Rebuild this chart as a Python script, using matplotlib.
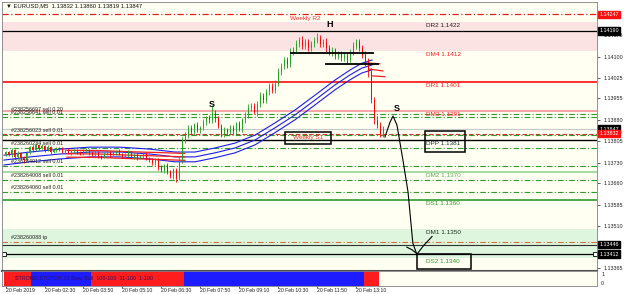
import matplotlib
matplotlib.use("Agg")

import numpy as np
import matplotlib.pyplot as plt
from matplotlib.patches import Rectangle
from matplotlib.transforms import blended_transform_factory

plt.rcParams["font.family"] = ["Liberation Sans", "DejaVu Sans"]

# -------------------------------
# DATA (EURUSD M5)
# -------------------------------
HEADER = "\u25bc EURUSD,M5  1.13832 1.13860 1.13819 1.13847"

FIRST_OPEN = 1.13760
CLOSES = [
    1.13768, 1.13758, 1.13775, 1.13751, 1.13765, 1.13747, 1.13740, 1.13765, 1.13785, 1.13775,
    1.13792, 1.13782, 1.13789, 1.13775, 1.13785, 1.13768, 1.13775, 1.13782, 1.13778, 1.13768,
    1.13775, 1.13765, 1.13771, 1.13775, 1.13768, 1.13761, 1.13771, 1.13775, 1.13765, 1.13758,
    1.13768, 1.13754, 1.13751, 1.13761, 1.13768, 1.13758, 1.13765, 1.13771, 1.13761, 1.13754,
    1.13758, 1.13768, 1.13751, 1.13758, 1.13747, 1.13754, 1.13761, 1.13747, 1.13740, 1.13730,
    1.13740, 1.13716, 1.13705, 1.13723, 1.13698, 1.13684, 1.13705, 1.13678, 1.13740, 1.13810,
    1.13827, 1.13852, 1.13838, 1.13862, 1.13845, 1.13852, 1.13872, 1.13886, 1.13879, 1.13904,
    1.13886, 1.13859, 1.13831, 1.13845, 1.13838, 1.13852, 1.13841, 1.13865, 1.13848, 1.13879,
    1.13897, 1.13921, 1.13928, 1.13907, 1.13935, 1.13963, 1.13949, 1.13977, 1.13998, 1.13984,
    1.14005, 1.14046, 1.14067, 1.14088, 1.14074, 1.14116, 1.14123, 1.14144, 1.14158, 1.14137,
    1.14151, 1.14130, 1.14144, 1.14154, 1.14165, 1.14144, 1.14151, 1.14130, 1.14113, 1.14123,
    1.14102, 1.14109, 1.14095, 1.14106, 1.14088, 1.14116, 1.14137, 1.14151, 1.14130, 1.14106,
    1.14081, 1.14046, 1.13949, 1.13879, 1.13862, 1.13832, 1.13847,
]
# wick lengths in points (1e-5)
WICK_UP = [
    5, 4, 7, 3, 5, 4, 6, 8, 5, 6,
    6, 4, 7, 5, 6, 3, 5, 5, 4, 6,
    5, 6, 3, 5, 4, 5, 7, 6, 4, 5,
    6, 3, 5, 6, 7, 4, 6, 5, 6, 4,
    5, 6, 3, 6, 5, 4, 7, 6, 5, 6,
    8, 6, 7, 5, 7, 9, 6, 8, 10, 9,
    12, 9, 11, 8, 10, 7, 10, 9, 12, 28,
    11, 9, 8, 10, 7, 9, 10, 8, 11, 9,
    10, 13, 10, 11, 9, 14, 10, 12, 10, 11,
    13, 15, 11, 12, 10, 14, 11, 13, 9, 12,
    10, 9, 11, 13, 17, 10, 9, 12, 10, 11,
    8, 10, 9, 11, 10, 12, 13, 10, 11, 10,
    12, 14, 15, 11, 13, 10, 13,
]
WICK_DN = [
    7, 5, 6, 8, 4, 6, 9, 5, 4, 6,
    5, 7, 4, 6, 5, 7, 4, 6, 5, 5,
    6, 4, 7, 5, 6, 4, 5, 6, 7, 4,
    5, 6, 8, 4, 5, 6, 5, 7, 4, 6,
    5, 7, 4, 6, 8, 5, 6, 7, 8, 6,
    7, 9, 6, 10, 8, 7, 9, 14, 8, 10,
    9, 11, 8, 12, 9, 10, 7, 11, 9, 10,
    12, 8, 10, 9, 11, 8, 10, 9, 8, 10,
    9, 11, 10, 8, 12, 9, 11, 10, 12, 9,
    10, 8, 11, 9, 13, 10, 12, 9, 11, 10,
    12, 9, 11, 10, 8, 12, 10, 13, 9, 11,
    10, 12, 9, 11, 10, 8, 12, 10, 9, 11,
    14, 16, 12, 13, 11, 12, 13,
]

# moving-average channel (mid line), bar index -> price
MA_X = [-0.5, 8.2, 18.2, 28.2, 38.2, 48.2, 56.5, 63.2, 69.8, 76.5, 83.2, 89.8, 96.5, 103.2, 109.8, 114.8, 118.8, 122.2]
MA_MID = [1.13740, 1.13751, 1.13761, 1.13768, 1.13768, 1.13761, 1.13751, 1.13751, 1.13765, 1.13782,
          1.13810, 1.13852, 1.13897, 1.13949, 1.14001, 1.14036, 1.14060, 1.14071]
MA_RED_X = [20.5, 31.5, 41.5, 51.5, 59.8]
MA_RED_MID = [1.13762, 1.13761, 1.13757, 1.13754, 1.13751]
MA_TAIL_X = [[120.0, 124.8], [121.0, 125.8], [122.2, 126.5]]
MA_TAIL_Y = [[1.14078, 1.14075], [1.14057, 1.14050], [1.14033, 1.14030]]

# pivot levels
PIVOT_NAMES = ["DR2", "DM4", "DR1", "DM3", "DPP", "DM2", "DS1", "DM1", "DS2"]
PIVOT_VALUES = [1.1422, 1.1412, 1.1401, 1.1391, 1.1381, 1.1370, 1.1360, 1.1350, 1.1340]
WEEKLY_R2 = 1.14247

# open orders
ORDER_LABELS = ["#238256697 sell 0.20", "#238256641 sell 0.01", "#238256023 sell 0.01",
                "#238260234 sell 0.01", "#238264012 sell 0.01", "#238264008 sell 0.01",
                "#238264060 sell 0.01", "#238260088 tp"]
ORDER_PRICES = [1.13900, 1.13890, 1.13827, 1.13782, 1.13719, 1.13670, 1.13629, 1.13455]

# right-axis
Y_TICKS = [1.14175, 1.14100, 1.14025, 1.13955, 1.13880, 1.13805, 1.13730, 1.13660, 1.13585, 1.13510, 1.13365]
TAGS = [(1.14247, "#FF1010"), (1.14190, "#000000"), (1.13847, "#000000"),
        (1.13832, "#FF1010"), (1.13446, "#000000"), (1.13412, "#000000")]

# time axis
TIME_TICKS = [0, 13, 26, 39, 52, 65, 78, 91, 104, 117]
TIME_LABELS = ["20 Feb 2019", "20 Feb 02:30", "20 Feb 03:50", "20 Feb 05:10", "20 Feb 06:30",
               "20 Feb 07:50", "20 Feb 09:10", "20 Feb 10:30", "20 Feb 11:50", "20 Feb 13:10"]

# strong stoch strip colour per bar
STOCH = ("RRRRRRRRR" "BBBBBBBBBBBBBBBBBBBB" "RRRRRRRRRRRRRRRRRRRRRRRRRRRRRRR"
         "BBBBBBBBBBBBBBBBBBBBBBBBBBBBBBBBBBBBBBBBBBBBBBBBBBBBBBBBBBBB" "RRRRR" "--")

# hand drawn annotations (bar index, price)
HS_TEXT = [("S", 68.8, 1.13935), ("H", 108.2, 1.14213), ("S", 130.5, 1.13921)]
NECK_X = [[95.2, 122.5], [106.8, 124.2]]
NECK_Y = [1.14113, 1.14074]
PATH_X = [126.5, 128.2, 129.2, 130.5, 132.5, 134.2, 135.8, 137.2]
PATH_Y = [1.13820, 1.13872, 1.13893, 1.13862, 1.13740, 1.13629, 1.13451, 1.13410]
HOOK_X = [133.8, 135.5, 137.2]
HOOK_Y = [1.13437, 1.13428, 1.13414]
REB_X = [137.5, 139.5, 142.2]
REB_Y = [1.13417, 1.13444, 1.13474]

BG = "#FFFFF2"
GREEN = "#1FA51F"
RED = "#FF0000"
SMALL = 3.9

# -------------------------------
# FIGURE
# -------------------------------
fig = plt.figure(figsize=(6.25, 2.94), dpi=100, facecolor="white")
ax = fig.add_axes([2 / 625, 1 - 271 / 294, 595 / 625, 269 / 294], facecolor=BG)
sub = fig.add_axes([2 / 625, 1 - 286 / 294, 595 / 625, 15 / 294], facecolor=BG, sharex=ax)

XMIN, XMAX = -1.17, 197.2
ax.set_xlim(XMIN, XMAX)
ax.set_ylim(1.13354, 1.14290)

# bands
ax.axhspan(PIVOT_VALUES[1], PIVOT_VALUES[0], color="#FBE3E3", lw=0, zorder=0)
ax.axhspan(PIVOT_VALUES[8], PIVOT_VALUES[7], color="#DDF6DD", lw=0, zorder=0)

# level lines
ax.axhline(WEEKLY_R2, color="#E02020", lw=0.9, ls=(0, (5, 2, 1, 2)), zorder=1)
ax.axhline(1.14190, color="black", lw=0.9, zorder=1)
ax.axhline(PIVOT_VALUES[2], color="#FF2020", lw=1.3, zorder=1)
ax.axhline(PIVOT_VALUES[3], color="#F5A0A0", lw=1.3, zorder=1)
ax.axhline(1.13847, color="#C8C8C8", lw=0.8, zorder=1)
ax.axhline(1.13832, color="#E03030", lw=0.8, ls=(0, (4, 2)), zorder=1)
ax.axhline(PIVOT_VALUES[4], color="black", lw=1.0, zorder=1)
ax.axhline(PIVOT_VALUES[5], color="#8FD08F", lw=1.1, zorder=1)
ax.axhline(PIVOT_VALUES[6], color="#2E9A2E", lw=1.2, zorder=1)
ax.axhline(1.13446, color="#303030", lw=0.8, zorder=1)
ax.axhline(1.13412, color="black", lw=0.9, zorder=1)
ax.plot([XMIN + 0.6, XMAX - 0.6], [1.13412, 1.13412], ls="none", marker="s", ms=2.2,
        mfc="white", mec="black", mew=0.6, zorder=2, clip_on=False)

for lab, price in zip(ORDER_LABELS, ORDER_PRICES):
    if lab.endswith("tp"):
        ax.axhline(price, color="#D8703C", lw=0.8, ls=(0, (5, 2, 1, 2)), zorder=1)
    else:
        ax.axhline(price, color="#2E9A2E", lw=0.8, ls=(0, (5, 2, 1, 2)), zorder=1)
    ax.text(1.8, price + 0.00006, lab, fontsize=SMALL, color="#202020", va="bottom", ha="left", zorder=5)

# MA channel
ma_x = np.array(MA_X)
ma_mid = np.array(MA_MID)
for off in (0.00017, 0.0, -0.00017):
    ax.plot(ma_x, ma_mid + off, color="#1C1CF0", lw=0.8, zorder=3)
rx = np.array(MA_RED_X)
rmid = np.array(MA_RED_MID)
for off in (0.00012, 0.0, -0.00012):
    ax.plot(rx, rmid + off, color="#F02020", lw=0.9, zorder=3)
for tx, ty in zip(MA_TAIL_X, MA_TAIL_Y):
    ax.plot(tx, ty, color="#F02020", lw=0.9, zorder=3)

# candles
closes = np.array(CLOSES)
opens = np.concatenate([[FIRST_OPEN], closes[:-1]])
highs = np.maximum(opens, closes) + np.array(WICK_UP) * 1e-5
lows = np.minimum(opens, closes) - np.array(WICK_DN) * 1e-5
idx = np.arange(len(closes))
cols = [GREEN if c >= o else RED for o, c in zip(opens, closes)]
ax.vlines(idx, lows, highs, colors=cols, lw=0.6, zorder=4)
body = np.maximum(np.abs(closes - opens), 0.00002)
ax.bar(idx, body, bottom=np.minimum(opens, closes), width=0.62, color=cols, lw=0, zorder=4)

# pivot labels
piv_colors = ["#202020", "#FF2020", "#FF2020", "#FF2020", "#203040", "#5DB05D", "#2E9A2E", "#203020", "#2E9A2E"]
for name, val, c in zip(PIVOT_NAMES, PIVOT_VALUES, piv_colors):
    ax.text(140.2, val - 0.00012, f"{name} {val:.4f}", fontsize=4.6, color=c, va="center", ha="left", zorder=6)
ax.text(100.0, WEEKLY_R2 - 0.00016, "Weekly R2", fontsize=4.6, color="#FF3030", va="center", ha="center", zorder=6)
ax.text(100.8, 1.13817, "Weekly S1", fontsize=4.6, color="#FF3030", va="center", ha="center", zorder=6)

# boxes
for (x0, x1, y0, y1) in [(93.2, 108.5, 1.13796, 1.13838), (139.8, 153.2, 1.13768, 1.13841), (137.2, 155.2, 1.13361, 1.13413)]:
    ax.add_patch(Rectangle((x0, y0), x1 - x0, y1 - y0, fill=False, ec="black", lw=1.1, zorder=7))

# head & shoulders drawing
for t, x, y in HS_TEXT:
    ax.text(x, y, t, fontsize=6.5, fontweight="bold", color="black", ha="center", va="center", zorder=8)
for nx, ny in zip(NECK_X, NECK_Y):
    ax.plot(nx, [ny, ny], color="black", lw=1.3, zorder=7)
ax.plot(PATH_X, PATH_Y, color="black", lw=0.8, zorder=7)
ax.plot(HOOK_X, HOOK_Y, color="black", lw=0.8, zorder=7)
ax.plot(REB_X, REB_Y, color="black", lw=0.8, zorder=7)

ax.text(0.006, 0.985, HEADER, transform=ax.transAxes, fontsize=4.2, color="#101010", va="center", ha="left")

# right axis
ax.yaxis.tick_right()
ax.set_yticks(Y_TICKS)
ax.set_yticklabels([f"{v:.5f}" for v in Y_TICKS])
ax.tick_params(axis="y", labelsize=SMALL, length=2, width=0.5, pad=3, colors="#202020")
ax.tick_params(axis="x", bottom=False, labelbottom=False)
trans = blended_transform_factory(ax.transAxes, ax.transData)
for val, c in TAGS:
    ax.text(1.004, val, f"{val:.5f}", transform=trans, fontsize=SMALL, color="white", va="center", ha="left",
            bbox=dict(boxstyle="square,pad=0.25", fc=c, ec=c), zorder=9, clip_on=False)
for sp in ax.spines.values():
    sp.set_color("#808080")
    sp.set_linewidth(0.6)
ax.spines["bottom"].set_color("#505050")
ax.spines["bottom"].set_linewidth(1.5)

# stoch strip
for i, s in enumerate(STOCH):
    if s == "-":
        continue
    sub.bar(i, 1.6, bottom=-0.3, width=0.8, color="#1C1CFF" if s == "B" else "#FF1C1C", lw=0)
sub.set_ylim(-0.3, 1.3)
sub.text(3.0, 0.5, "STRONG STOTCH  CI Bear Bull  100-100  11-100  1-100", fontsize=SMALL,
         color="#301060", va="center", ha="left")
sub.yaxis.tick_right()
sub.set_yticks([1, 0])
sub.set_yticklabels(["1", "0"])
sub.tick_params(axis="y", labelsize=SMALL, length=0, pad=3, colors="#202020")
sub.set_xticks(TIME_TICKS)
sub.set_xticklabels(TIME_LABELS, ha="left")
sub.tick_params(axis="x", labelsize=3.7, length=1.5, width=0.5, pad=0.3, colors="#202020")
for sp in sub.spines.values():
    sp.set_color("#808080")
    sp.set_linewidth(0.6)

fig.savefig("out.png", dpi=100, facecolor="white")
